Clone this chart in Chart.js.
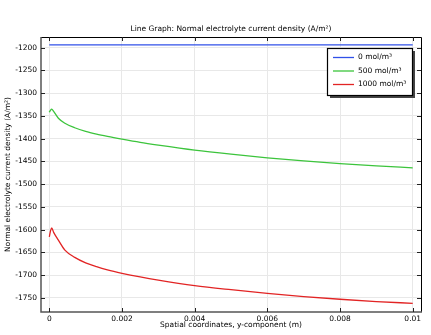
<!DOCTYPE html>
<html>
<head>
<meta charset="utf-8">
<script src="https://cdn.jsdelivr.net/npm/chart.js@4.4.1/dist/chart.umd.min.js"></script>
<style>
  body { margin: 0; background: #fff; }
  canvas { display: block; }
</style>
</head>
<body>
<canvas id="chart" width="431" height="335"></canvas>
<script>
const xPositions = [0, 0.00003, 0.000066, 0.00012, 0.00025, 0.00043, 0.0007, 0.001, 0.0013, 0.0016, 0.002, 0.0025, 0.003, 0.004, 0.005, 0.006, 0.007, 0.008, 0.009, 0.01]
const current0 = [-1194, -1194, -1194, -1194, -1194, -1194, -1194, -1194, -1194, -1194, -1194, -1194, -1194, -1194, -1194, -1194, -1194, -1194, -1194, -1194]
const current500 = [-1342, -1338, -1335, -1340, -1355, -1366, -1376, -1384, -1390, -1395, -1401, -1408, -1414, -1425, -1434, -1442, -1449, -1455, -1460, -1464]
const current1000 = [-1616, -1604, -1596, -1606, -1623, -1645, -1661, -1673, -1681.5, -1688.5, -1696, -1704, -1711, -1723, -1732, -1740, -1747, -1753, -1758, -1762]
const seriesLabels = ['0 mol/m³', '500 mol/m³', '1000 mol/m³']
const seriesColors = ['#3050e8', '#3cc43c', '#e22424']

const font = '"DejaVu Sans", sans-serif'

function points(ys) {
  return xPositions.map((x, i) => ({ x, y: ys[i] }))
}

function dataset(i, ys) {
  return {
    label: seriesLabels[i],
    data: points(ys),
    borderColor: seriesColors[i],
    backgroundColor: seriesColors[i],
    borderWidth: 1.3,
    pointRadius: 0,
    cubicInterpolationMode: 'monotone',
  }
}

// title, axis titles, frame, inward ticks and the boxed legend
const comsolFrame = {
  id: 'comsolFrame',
  afterDatasetsDraw(chart) {
    const { ctx, chartArea: a, scales } = chart
    ctx.save()

    // frame
    ctx.lineWidth = 1
    ctx.strokeStyle = '#000'
    ctx.beginPath()
    ctx.moveTo(a.left, a.top + 0.5); ctx.lineTo(a.right + 0.5, a.top + 0.5); ctx.lineTo(a.right + 0.5, a.bottom)
    ctx.stroke()
    ctx.strokeStyle = '#555'
    ctx.lineWidth = 1.5
    ctx.beginPath()
    ctx.moveTo(a.left, a.top); ctx.lineTo(a.left, a.bottom); ctx.lineTo(a.right + 1, a.bottom)
    ctx.stroke()

    // inward ticks
    ctx.lineWidth = 1
    ctx.strokeStyle = '#222'
    ctx.beginPath()
    scales.y.ticks.forEach(t => {
      const py = Math.round(scales.y.getPixelForValue(t.value)) + 0.5
      ctx.moveTo(a.left, py); ctx.lineTo(a.left + 4, py)
      ctx.moveTo(a.right, py); ctx.lineTo(a.right - 4, py)
    })
    scales.x.ticks.forEach(t => {
      const px = Math.round(scales.x.getPixelForValue(t.value)) + 0.5
      ctx.moveTo(px, a.bottom); ctx.lineTo(px, a.bottom - 4)
      ctx.moveTo(px, a.top); ctx.lineTo(px, a.top + 4)
    })
    ctx.stroke()

    // texts
    ctx.fillStyle = '#000'
    ctx.font = '7.5px ' + font
    ctx.textAlign = 'center'
    ctx.textBaseline = 'middle'
    const cx = (a.left + a.right) / 2
    ctx.fillText('Line Graph: Normal electrolyte current density (A/m²)', cx, 29)
    ctx.fillText('Spatial coordinates, y-component (m)', cx, 325)
    ctx.save()
    ctx.translate(8, (a.top + a.bottom) / 2)
    ctx.rotate(-Math.PI / 2)
    ctx.fillText('Normal electrolyte current density (A/m²)', 0, 0)
    ctx.restore()

    // legend
    const lx = 327, ly = 48, lw = 85, lh = 47
    ctx.fillStyle = '#444'
    ctx.fillRect(lx + 3, ly + 3, lw, lh)
    ctx.fillStyle = '#fff'
    ctx.fillRect(lx, ly, lw, lh)
    ctx.strokeStyle = '#000'
    ctx.lineWidth = 1.2
    ctx.strokeRect(lx + 0.5, ly + 0.5, lw, lh)
    ctx.textAlign = 'left'
    seriesLabels.forEach((label, i) => {
      const yy = ly + 9.5 + i * 13.5
      ctx.strokeStyle = seriesColors[i]
      ctx.lineWidth = 1.3
      ctx.beginPath()
      ctx.moveTo(lx + 6, yy); ctx.lineTo(lx + 27, yy)
      ctx.stroke()
      ctx.fillStyle = '#000'
      ctx.fillText(label, lx + 31, yy)
    })
    ctx.restore()
  }
}

new Chart(document.getElementById('chart'), {
  type: 'line',
  data: {
    datasets: [dataset(0, current0), dataset(1, current500), dataset(2, current1000)]
  },
  options: {
    responsive: false,
    animation: false,
    layout: { padding: { top: 37, right: 10, left: 0, bottom: 0 } },
    plugins: {
      legend: { display: false },
      title: { display: false },
      tooltip: { enabled: false },
    },
    scales: {
      x: {
        type: 'linear',
        min: -0.000228,
        max: 0.010228,
        afterBuildTicks: scale => {
          scale.ticks = [0, 0.002, 0.004, 0.006, 0.008, 0.01].map(value => ({ value }))
        },
        afterFit: scale => { scale.height = 23 },
        grid: { color: '#e8e8e8', drawTicks: false },
        border: { display: false },
        ticks: {
          color: '#000',
          font: { family: font, size: 7.5 },
          padding: 3,
          maxRotation: 0,
          callback: v => String(+v.toFixed(4)),
        },
      },
      y: {
        min: -1781,
        max: -1176.5,
        afterBuildTicks: scale => {
          const ticks = []
          for (let v = -1750; v <= -1200; v += 50) ticks.push({ value: v })
          scale.ticks = ticks
        },
        afterFit: scale => { scale.width = 41 },
        grid: { color: '#e8e8e8', drawTicks: false },
        border: { display: false },
        ticks: {
          color: '#000',
          font: { family: font, size: 7.5 },
          padding: 4,
          callback: v => String(v),
        },
      },
    },
  },
  plugins: [comsolFrame],
})
</script>
</body>
</html>
